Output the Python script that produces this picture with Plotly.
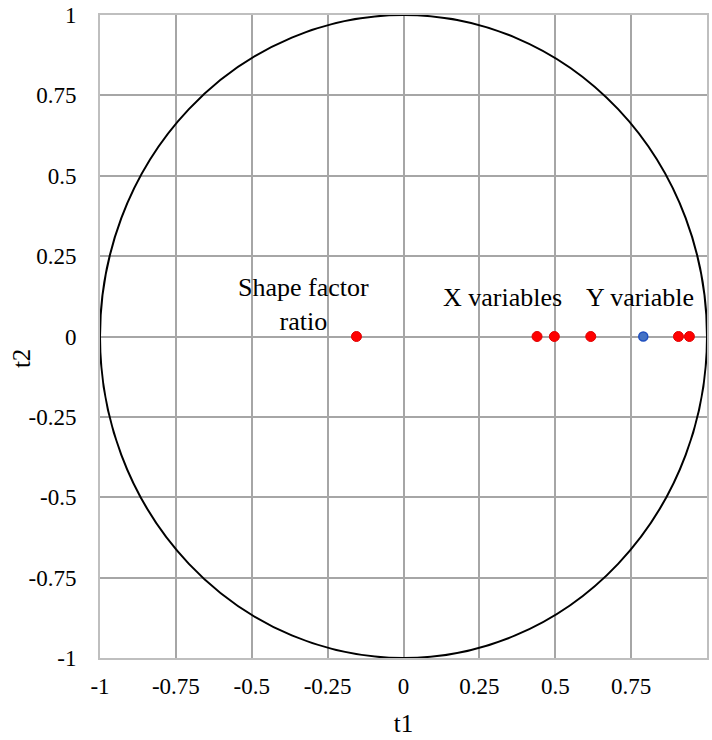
import plotly.graph_objects as go

x_vars_t1 = [-0.155, 0.44, 0.497, 0.617, 0.906, 0.942]
x_vars_t2 = [0, 0, 0, 0, 0, 0]
y_var_t1 = [0.79]
y_var_t2 = [0]
tick_vals = [-1, -0.75, -0.5, -0.25, 0, 0.25, 0.5, 0.75, 1]
tick_text = ["-1", "-0.75", "-0.5", "-0.25", "0", "0.25", "0.5", "0.75", "1"]
labels = ["Shape factor<br>ratio", "X variables", "Y variable"]
label_x = [-0.328, 0.325, 0.78]
label_y = [0.10, 0.12, 0.12]

font_family = "Liberation Serif"

fig = go.Figure()
fig.add_shape(type="circle", x0=-1, y0=-1, x1=1, y1=1, xref="x", yref="y",
              line=dict(color="black", width=2))
fig.add_trace(go.Scatter(x=x_vars_t1, y=x_vars_t2, mode="markers",
                         marker=dict(color="#FF0000", size=10, line=dict(color="#E00000", width=1)),
                         showlegend=False))
fig.add_trace(go.Scatter(x=y_var_t1, y=y_var_t2, mode="markers",
                         marker=dict(color="#4472C4", size=9, line=dict(color="#1F4FBF", width=1.5)),
                         showlegend=False))
for t, lx, ly in zip(labels, label_x, label_y):
    fig.add_annotation(x=lx, y=ly, text=t, showarrow=False, xref="x", yref="y",
                       font=dict(family=font_family, size=26, color="black"))

fig.add_annotation(x=-0.130, y=0.465, xref="paper", yref="paper", text="t2", textangle=-90,
                   showarrow=False, xanchor="center", yanchor="middle",
                   font=dict(family=font_family, size=25, color="black"))

axis_common = dict(range=[-1, 1], tickvals=tick_vals, ticktext=tick_text,
                   showgrid=True, gridcolor="#A6A6A6", gridwidth=1.5,
                   zeroline=True, zerolinecolor="#A6A6A6", zerolinewidth=1.5,
                   showline=True, linecolor="#BFBFBF", linewidth=2, mirror=True,
                   tickfont=dict(family=font_family, size=23, color="black"),
                   fixedrange=True, automargin=False)
fig.update_xaxes(**axis_common, ticks="outside", tickcolor="white", ticklen=6,
                 title=dict(text="t1", font=dict(family=font_family, size=25, color="black"), standoff=17))
fig.update_yaxes(**axis_common, ticks="outside", tickcolor="white", ticklen=17, tickwidth=1)

fig.update_layout(width=712, height=740, margin=dict(l=100, r=5, t=15, b=82),
                  plot_bgcolor="white", paper_bgcolor="white")
fig.write_html("out.html")
